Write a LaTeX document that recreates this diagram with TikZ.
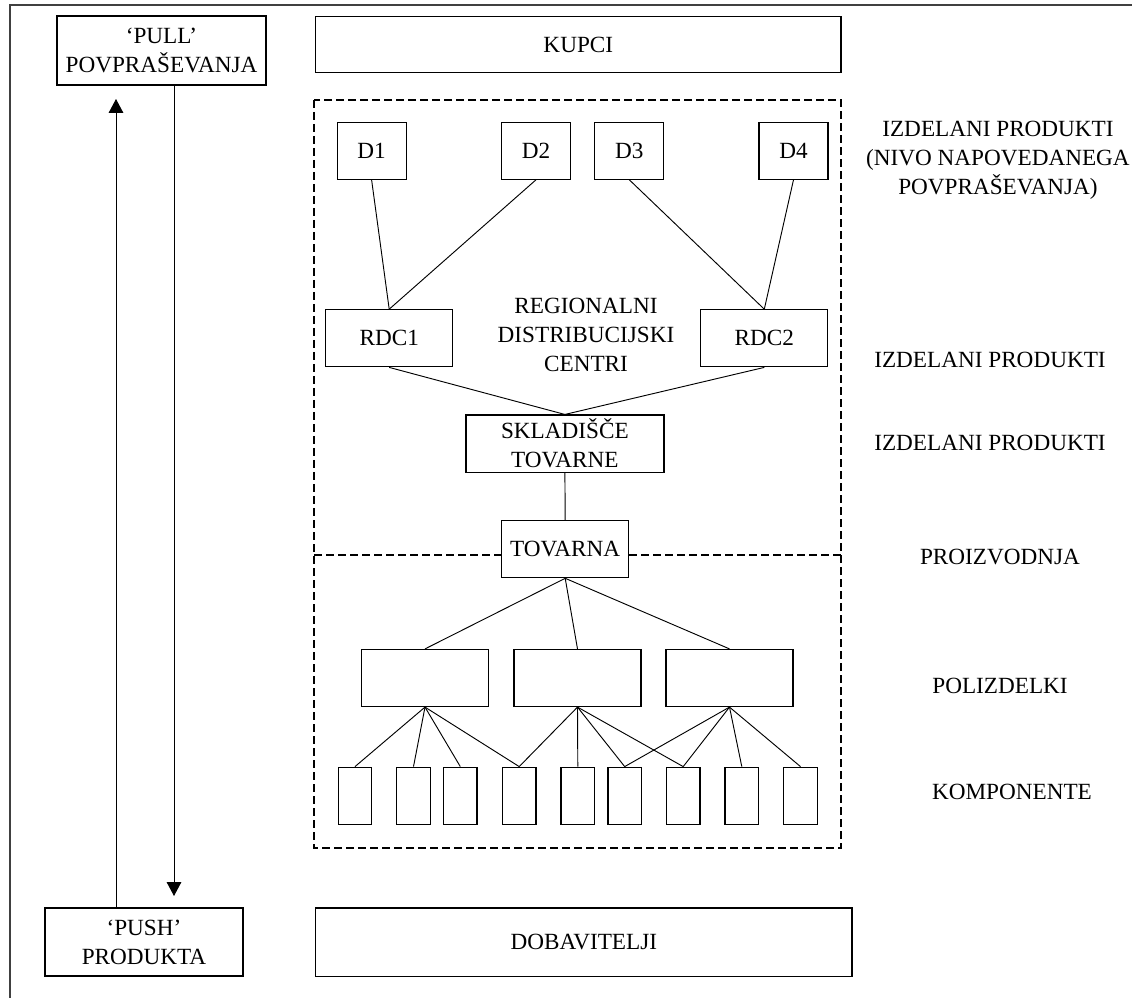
\documentclass[tikz,border=0pt]{standalone}
\usepackage{fontspec}
\setmainfont{Liberation Serif}
\usepackage{tikz}
\usetikzlibrary{arrows.meta}
\tikzset{>={Triangle[width=11pt,length=10.5pt]}}
\tikzset{
  box/.style={draw, line width=0.9pt, fill=white, inner sep=0pt, align=center},
  dbox/.style={box, minimum width=69*\px, minimum height=57*\px},
  rbox/.style={box, minimum width=127*\px, minimum height=57*\px},
  kbox/.style={box, minimum width=33.5*\px, minimum height=57*\px},
  link/.style={line width=0.7pt},
  sep/.style={line width=0.9pt, dash pattern=on 6pt off 3pt},
  lbl/.style={inner sep=0pt, align=center},
  pageframe/.style={line width=1pt, black!75},
}

\begin{document}
\begin{tikzpicture}[x=0.75pt, y=-0.75pt]

  \fontsize{17.4pt}{21.75pt}\selectfont

  \newcommand\px{0.75pt}

  \useasboundingbox (0,0) rectangle (1132,998);

  \draw[pageframe] (10,998) -- (10,5) -- (1132,5);

  %% pull / push
  \node[box, minimum width=209*\px, minimum height=69*\px] (pull) at (161.5,50.5) {‘PULL’\\POVPRAŠEVANJA};
  \node[box, minimum width=198*\px, minimum height=68*\px] (push) at (144,942) {‘PUSH’\\PRODUKTA};

  \coordinate (uptip) at (116,99);
  \coordinate (downtip) at (174,896);
  \draw[->, link] (uptip |- push.north) -- (uptip);
  \draw[->, link] (downtip |- pull.south) -- (downtip);

  \node[box, minimum width=525.5*\px, minimum height=56*\px] (kupci) at (578.3,44.7) {KUPCI};
  \node[box, minimum width=536.5*\px, minimum height=68.7*\px] (dobav) at (583.8,942.3) {DOBAVITELJI};

  %% dashed panel
  \coordinate (panelnw) at (314,100);
  \coordinate (panelse) at (841,848);
  \draw[sep] (panelnw) rectangle (panelse);

  \node[dbox] (d1) at (371.6,150.7) {D1};
  \node[dbox] (d2) at (536,150.7) {D2};
  \node[dbox] (d3) at (629.3,150.7) {D3};
  \node[dbox] (d4) at (793.5,150.7) {D4};

  \node[rbox] (rdc1) at (389.2,338.3) {RDC1};
  \node[rbox] (rdc2) at (764.3,338.3) {RDC2};
  \node[lbl] (rdctext) at (586,335) {REGIONALNI\\DISTRIBUCIJSKI\\CENTRI};

  \node[box, minimum width=198*\px, minimum height=57.3*\px] (sklad) at (564.9,443.7) {SKLADIŠČE\\TOVARNE};
  \node[rbox] (tovarna) at (565.2,549.2) {TOVARNA};

  \draw[link] (d1.south) -- (rdc1.north);
  \draw[link] (d2.south) -- (rdc1.north);
  \draw[link] (d3.south) -- (rdc2.north);
  \draw[link] (d4.south) -- (rdc2.north);
  \draw[link] (rdc1.south) -- (sklad.north);
  \draw[link] (rdc2.south) -- (sklad.north);
  \draw[link] (sklad.south) -- (tovarna.north);

  % production cut
  \coordinate (cutl) at (314,555);
  \coordinate (cutr) at (841,555);
  \draw[sep] (cutl) -- (cutl -| tovarna.west);
  \draw[sep] (tovarna.east |- cutr) -- (cutr);

  \node[rbox] (p1) at (425,678) {};
  \node[rbox] (p2) at (577.5,678) {};
  \node[rbox] (p3) at (729.5,678) {};

  \draw[link] (tovarna.south) -- (p1.north);
  \draw[link] (tovarna.south) -- (p2.north);
  \draw[link] (tovarna.south) -- (p3.north);

  \node[kbox] (k1) at (355,795.7) {};
  \node[kbox] (k2) at (413.5,795.7) {};
  \node[kbox] (k3) at (460.3,795.7) {};
  \node[kbox] (k4) at (519.2,795.7) {};
  \node[kbox] (k5) at (577.8,795.7) {};
  \node[kbox] (k6) at (624.7,795.7) {};
  \node[kbox] (k7) at (683.2,795.7) {};
  \node[kbox] (k8) at (741.8,795.7) {};
  \node[kbox] (k9) at (800.5,795.7) {};

  \draw[link] (p1.south) -- (k1.north);
  \draw[link] (p1.south) -- (k2.north);
  \draw[link] (p1.south) -- (k3.north);
  \draw[link] (p1.south) -- (k4.north);

  \draw[link] (p2.south) -- (k4.north);
  \draw[link] (p2.south) -- (k5.north);
  \draw[link] (p2.south) -- (k6.north);
  \draw[link] (p2.south) -- (k7.north);

  \draw[link] (p3.south) -- (k6.north);
  \draw[link] (p3.south) -- (k7.north);
  \draw[link] (p3.south) -- (k8.north);
  \draw[link] (p3.south) -- (k9.north);

  %% levels on the right
  \node[lbl] (lvl1) at (998,160) {IZDELANI PRODUKTI\\(NIVO NAPOVEDANEGA\\POVPRAŠEVANJA)};
  \node[lbl] (lvl2) at (990,360) {IZDELANI PRODUKTI};
  \node[lbl] (lvl3) at (990,443) {IZDELANI PRODUKTI};
  \node[lbl] (lvl4) at (1000,557) {PROIZVODNJA};
  \node[lbl] (lvl5) at (1000,686) {POLIZDELKI};
  \node[lbl] (lvl6) at (1012,792) {KOMPONENTE};

\end{tikzpicture}
\end{document}
